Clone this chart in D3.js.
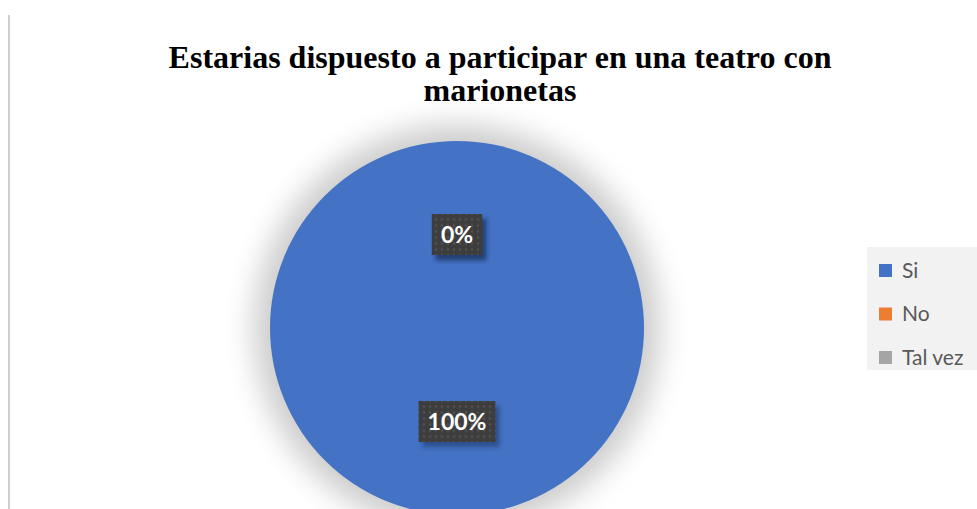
<!DOCTYPE html>
<html>
<head>
<meta charset="utf-8">
<script src="https://cdn.jsdelivr.net/npm/d3@7"></script>
<style>
  html, body { margin: 0; padding: 0; background: #ffffff; }
  svg { display: block; }
</style>
</head>
<body>
<svg id="chart" width="977" height="509"></svg>
<script>
// ---- data ----
const titleLines = ["Estarias dispuesto a participar en una teatro con", "marionetas"];
const categories = ["Si", "No", "Tal vez"];
const values = [100, 0, 0];
const colors = ["#4472C4", "#ED7D31", "#A5A5A5"];

const svg = d3.select("#chart");
const cx = 457, cy = 328, R = 187;

const defs = svg.append("defs");
const blur = defs.append("filter").attr("id", "pieShadow")
  .attr("x", "-40%").attr("y", "-40%").attr("width", "180%").attr("height", "180%");
blur.append("feGaussianBlur").attr("stdDeviation", 15);

const lblShadow = defs.append("filter").attr("id", "lblShadow")
  .attr("x", "-30%").attr("y", "-30%").attr("width", "160%").attr("height", "160%");
lblShadow.append("feGaussianBlur").attr("stdDeviation", 2);

const pat = defs.append("pattern").attr("id", "dots")
  .attr("patternUnits", "userSpaceOnUse").attr("width", 6).attr("height", 6);
pat.append("rect").attr("width", 6).attr("height", 6).attr("fill", "#3d3d3d");
pat.append("circle").attr("cx", 3).attr("cy", 3).attr("r", 1.3).attr("fill", "#525252");

// left border line
svg.append("line").attr("x1", 9).attr("x2", 9).attr("y1", 15).attr("y2", 509)
  .attr("stroke", "#cfcfcf").attr("stroke-width", 2);

// title
const title = svg.append("text")
  .attr("x", 500).attr("y", 68)
  .attr("text-anchor", "middle")
  .attr("font-family", "'Liberation Serif', 'Times New Roman', serif")
  .attr("font-weight", "bold")
  .attr("font-size", 32)
  .attr("fill", "#000");
titleLines.forEach((t, i) => {
  title.append("tspan").attr("x", 500).attr("dy", i === 0 ? 0 : 33).text(t);
});

// pie shadow
svg.append("circle").attr("cx", cx).attr("cy", cy).attr("r", R + 16)
  .attr("fill", "#000").attr("opacity", 0.2).attr("filter", "url(#pieShadow)");

const pie = d3.pie().sort(null).value(d => d.v);
const arcs = pie(categories.map((c, i) => ({ c, v: values[i], col: colors[i] })));
const arc = d3.arc().innerRadius(0).outerRadius(R);

const g = svg.append("g").attr("transform", `translate(${cx},${cy})`);
g.selectAll("path").data(arcs).enter().append("path")
  .attr("d", arc).attr("fill", d => d.data.col);

// labels
const fmt = v => Math.round(v) + "%";
const lblG = g.selectAll("g.lbl").data(arcs.slice().reverse()).enter().append("g").attr("class", "lbl")
  .attr("transform", d => {
    const [x, y] = arc.centroid(d);
    return `translate(${x},${y})`;
  });
lblG.each(function (d) {
  const s = d3.select(this);
  const txt = fmt(d.data.v);
  const t = s.append("text").attr("text-anchor", "middle").attr("dy", "0.36em")
    .attr("font-family", "Lato, 'Open Sans', sans-serif").attr("font-weight", "bold")
    .attr("font-size", 23).attr("fill", "#ffffff").text(txt);
  const bb = t.node().getBBox();
  const w = bb.width + 18, h = 41;
  s.insert("rect", "text").attr("x", -w / 2 + 4).attr("y", -h / 2 + 5).attr("width", w).attr("height", h)
    .attr("fill", "#1f3560").attr("opacity", 0.55).attr("filter", "url(#lblShadow)");
  s.insert("rect", "text").attr("x", -w / 2).attr("y", -h / 2).attr("width", w).attr("height", h)
    .attr("fill", "url(#dots)");
});

// legend
const lg = svg.append("g");
lg.append("rect").attr("x", 867).attr("y", 247).attr("width", 110).attr("height", 123).attr("fill", "#f2f2f2");
const ly = d3.scalePoint().domain(categories).range([270, 357]);
categories.forEach((c, i) => {
  lg.append("rect").attr("x", 879).attr("y", ly(c) - 6).attr("width", 13).attr("height", 13).attr("fill", colors[i]);
  lg.append("text").attr("x", 902).attr("y", ly(c)).attr("dy", "0.36em")
    .attr("font-family", "Lato, 'Open Sans', sans-serif").attr("font-size", 21)
    .attr("fill", "#595959").text(c);
});
</script>
</body>
</html>
